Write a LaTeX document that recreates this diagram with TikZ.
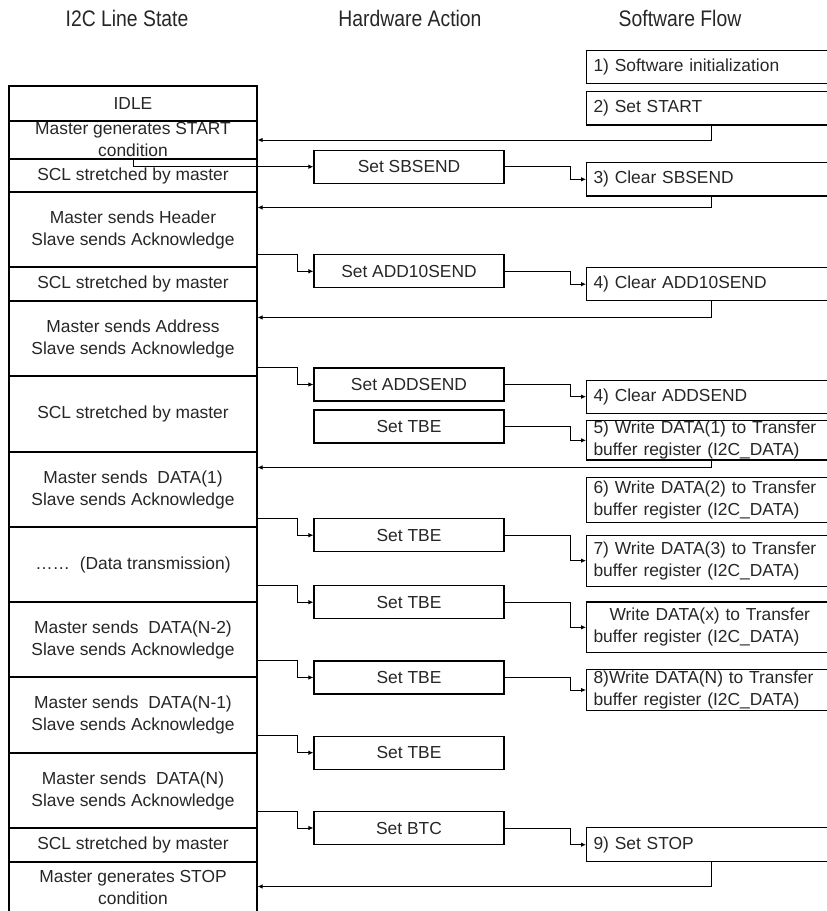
\documentclass[tikz,border=0pt]{standalone}
\usepackage{fontspec}
\setmainfont{Liberation Sans}
\newfontfamily\hdrfont[FakeStretch=0.86]{Liberation Sans}
\usetikzlibrary{arrows.meta}
\begin{document}
\begin{tikzpicture}[x=1pt,y=-1pt,
  every node/.style={font=\fontsize{17.4}{22}\selectfont, inner sep=0pt, text=black!85},
  hdr/.style={font=\hdrfont\fontsize{22.5}{24}\selectfont},
  state/.style={draw, line width=1.1pt, minimum width=248pt, align=center},
  hw/.style={draw, line width=1.1pt, minimum width=190pt, minimum height=33pt},
  sw/.style={draw, line width=1.1pt, anchor=west, align=left, text width=246pt, inner xsep=7pt},
  arr/.style={line width=0.9pt, -{Latex[length=5pt,width=4.5pt]}}
  ]
\useasboundingbox (0,0) rectangle (827,911);
\clip (0,0) rectangle (827,911);

% headers
\node[hdr] (h-line) at (127,18) {I2C Line State};
\node[hdr] (h-hw) at (410,18) {Hardware Action};
\node[hdr] (h-sw) at (680,18) {Software Flow};

% I2C line states
\node[state, minimum height=35pt] (r1) at (133,103.5) {IDLE};
\node[state, minimum height=38pt] (r2) at (133,140) {Master generates START\\condition};
\node[state, minimum height=33pt] (r3) at (133,175.5) {SCL stretched by master};
\node[state, minimum height=75pt] (r4) at (133,229.5) {Master sends Header\\Slave sends Acknowledge};
\node[state, minimum height=34pt] (r5) at (133,284) {SCL stretched by master};
\node[state, minimum height=75pt] (r6) at (133,338.5) {Master sends Address\\Slave sends Acknowledge};
\node[state, minimum height=76pt] (r7) at (133,414) {SCL stretched by master};
\node[state, minimum height=75pt] (r8) at (133,489.5) {Master sends~ DATA(1)\\Slave sends Acknowledge};
\node[state, minimum height=75pt] (r9) at (133,564.5) {……~ (Data transmission)};
\node[state, minimum height=75pt] (r10) at (133,639.5) {Master sends~ DATA(N-2)\\Slave sends Acknowledge};
\node[state, minimum height=76pt] (r11) at (133,715) {Master sends~ DATA(N-1)\\Slave sends Acknowledge};
\node[state, minimum height=75pt] (r12) at (133,790.5) {Master sends~ DATA(N)\\Slave sends Acknowledge};
\node[state, minimum height=34pt] (r13) at (133,845) {SCL stretched by master};
\node[state, minimum height=50pt] (r14) at (133,887) {Master generates STOP\\condition};

% hardware actions
\node[hw] (h1) at (409,166.7) {Set SBSEND};
\node[hw] (h2) at (409,271.3) {Set ADD10SEND};
\node[hw] (h3) at (409,384.5) {Set ADDSEND};
\node[hw] (h4) at (409,426.5) {Set TBE};
\node[hw] (h5) at (409,535.2) {Set TBE};
\node[hw] (h6) at (409,602.2) {Set TBE};
\node[hw] (h7) at (409,677.5) {Set TBE};
\node[hw] (h8) at (409,752.7) {Set TBE};
\node[hw] (h9) at (409,828) {Set BTC};

% software flow
\node[sw, minimum height=33.3pt] (s1) at (586,66.7) {1) Software initialization};
\node[sw, minimum height=33.3pt] (s2) at (586,108.3) {2) Set START};
\node[sw, minimum height=33.3pt] (s3) at (586,179.3) {3) Clear SBSEND};
\node[sw, minimum height=33pt] (s4) at (586,284.2) {4) Clear ADD10SEND};
\node[sw, minimum height=33.3pt] (s5) at (586,396.7) {4) Clear ADDSEND};
\node[sw, minimum height=39.3pt] (s6) at (586,440.3) {5) Write DATA(1) to Transfer\\buffer register (I2C\_DATA)};
\node[sw, minimum height=45.4pt] (s7) at (586,500) {6) Write DATA(2) to Transfer\\buffer register (I2C\_DATA)};
\node[sw, minimum height=50.7pt] (s8) at (586,560.7) {7) Write DATA(3) to Transfer\\buffer register (I2C\_DATA)};
\node[sw, minimum height=50.7pt] (s9) at (586,627.3) {\hspace*{16pt}Write DATA(x) to Transfer\\buffer register (I2C\_DATA)};
\node[sw, minimum height=41.4pt] (s10) at (586,690) {8)Write DATA(N) to Transfer\\buffer register (I2C\_DATA)};
\node[sw, minimum height=34pt] (s11) at (586,844.7) {9) Set STOP};

% connectors
\draw[arr] ([xshift=125pt]s2.south west) |- (r2.east);
\draw[arr] (r2.south) |- (h1.west);
\draw[arr] (h1.east) -| ([xshift=-16pt]s3.west) -- (s3.west);
\draw[arr] ([xshift=125pt]s3.south west) |- ([yshift=-16pt]r4.north east);
\draw[arr] (h2.north -| r4.east) -| ([xshift=-16pt]h2.west) -- (h2.west);
\draw[arr] (h2.east) -| ([xshift=-16pt]s4.west) -- (s4.west);
\draw[arr] ([xshift=125pt]s4.south west) |- ([yshift=-17pt]r6.north east);
\draw[arr] (h3.north -| r6.east) -| ([xshift=-16pt]h3.west) -- (h3.west);
\draw[arr] (h3.east) -| ([xshift=-16pt]s5.west) -- (s5.west);
\draw[arr] (h4.east) -| ([xshift=-16pt]s6.west) -- (s6.west);
\draw[arr] ([xshift=125pt]s6.south west) |- ([yshift=-16pt]r8.north east);
\draw[arr] (h5.north -| r8.east) -| ([xshift=-16pt]h5.west) -- (h5.west);
\draw[arr] (h5.east) -| ([xshift=-16pt]s8.west) -- (s8.west);
\draw[arr] (h6.north -| r9.east) -| ([xshift=-16pt]h6.west) -- (h6.west);
\draw[arr] (h6.east) -| ([xshift=-16pt]s9.west) -- (s9.west);
\draw[arr] (h7.north -| r10.east) -| ([xshift=-16pt]h7.west) -- (h7.west);
\draw[arr] (h7.east) -| ([xshift=-16pt]s10.west) -- (s10.west);
\draw[arr] (h8.north -| r11.east) -| ([xshift=-16pt]h8.west) -- (h8.west);
\draw[arr] (h9.north -| r12.east) -| ([xshift=-16pt]h9.west) -- (h9.west);
\draw[arr] (h9.east) -| ([xshift=-16pt]s11.west) -- (s11.west);
\draw[arr] ([xshift=125pt]s11.south west) |- ([yshift=-25pt]r14.north east);
\end{tikzpicture}
\end{document}
